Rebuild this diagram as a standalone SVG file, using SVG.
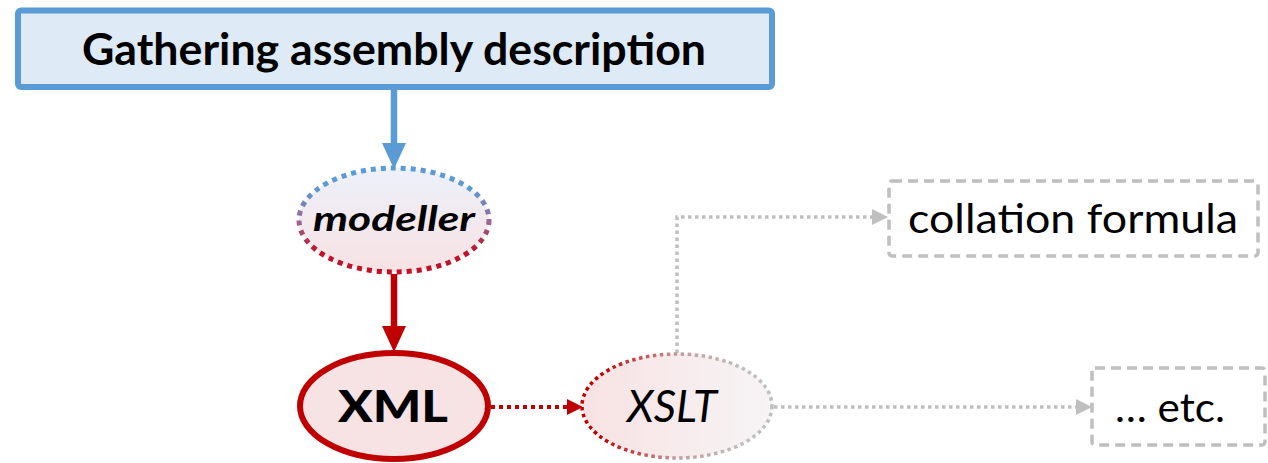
<svg xmlns="http://www.w3.org/2000/svg" width="1268" height="463" viewBox="0 0 1268 463">
<style>
.txt{font-family:Lato,"Open Sans","Liberation Sans",sans-serif;fill:#000}
.gbox{fill:#fff;stroke:#BFBFBF;stroke-width:3.5;stroke-dasharray:10 6}
.gconn{fill:none;stroke:#BFBFBF;stroke-width:3.5;stroke-dasharray:3.5 3.5}
</style>
<defs>
<linearGradient id="modFill" x1="0" y1="0" x2="0" y2="1">
<stop offset="0" stop-color="#ECF1FA"/><stop offset="1" stop-color="#F8E2E3"/>
</linearGradient>
<linearGradient id="modStroke" x1="0" y1="0" x2="0" y2="1">
<stop offset="0.2" stop-color="#5B9BD5"/><stop offset="0.5" stop-color="#9A6A9A"/><stop offset="0.8" stop-color="#C0102A"/>
</linearGradient>
<linearGradient id="xsltFill" x1="0" y1="0" x2="1" y2="0">
<stop offset="0" stop-color="#F8E2E3"/><stop offset="1" stop-color="#F6F4F5"/>
</linearGradient>
<linearGradient id="xsltStroke" x1="0" y1="0" x2="1" y2="0">
<stop offset="0.1" stop-color="#C00000"/><stop offset="0.5" stop-color="#C49A9C"/><stop offset="0.85" stop-color="#BFBFBF"/>
</linearGradient>
<marker id="arBlue" markerUnits="userSpaceOnUse" markerWidth="26" markerHeight="24" refX="0" refY="12" orient="auto">
<path d="M0,0 L26,12 L0,24 Z" fill="#5B9BD5"/>
</marker>
<marker id="arRed" markerUnits="userSpaceOnUse" markerWidth="26" markerHeight="24" refX="0" refY="12" orient="auto">
<path d="M0,0 L26,12 L0,24 Z" fill="#C00000"/>
</marker>
<marker id="arRedS" markerUnits="userSpaceOnUse" markerWidth="16" markerHeight="16" refX="0" refY="8" orient="auto">
<path d="M0,0 L16,8 L0,16 Z" fill="#C00000"/>
</marker>
<marker id="arGrey" markerUnits="userSpaceOnUse" markerWidth="16" markerHeight="16" refX="0" refY="8" orient="auto">
<path d="M0,0 L16,8 L0,16 Z" fill="#BFBFBF"/>
</marker>
</defs>

<g id="connectors">
<line x1="394" y1="89" x2="394" y2="143" stroke="#5B9BD5" stroke-width="6.5" marker-end="url(#arBlue)"/>
<line x1="394" y1="274" x2="394" y2="326" stroke="#C00000" stroke-width="6.5" marker-end="url(#arRed)"/>
<line x1="491" y1="407" x2="567" y2="407" stroke="#C00000" stroke-width="4" stroke-dasharray="4 4" marker-end="url(#arRedS)"/>
<polyline class="gconn" points="677,353 677,217 872,217" marker-end="url(#arGrey)"/>
<line class="gconn" x1="774" y1="407" x2="1076" y2="407" marker-end="url(#arGrey)"/>
</g>

<g id="node-gathering">
<rect x="18" y="10.5" width="754" height="76.5" rx="3" fill="#DEEAF6" stroke="#5B9BD5" stroke-width="6"/>
<text class="txt" x="394" y="65" font-size="43" font-weight="bold" text-anchor="middle" textLength="624" lengthAdjust="spacingAndGlyphs">Gathering assembly description</text>
</g>

<g id="node-modeller">
<ellipse cx="394" cy="220" rx="95" ry="52" fill="url(#modFill)" stroke="url(#modStroke)" stroke-width="5" stroke-dasharray="5 5"/>
<text class="txt" x="394" y="231" font-size="34" font-weight="bold" font-style="italic" text-anchor="middle" textLength="162" lengthAdjust="spacingAndGlyphs">modeller</text>
</g>

<g id="node-xml">
<ellipse cx="394" cy="406" rx="94" ry="53" fill="#F8E3E4" stroke="#C00000" stroke-width="6"/>
<text class="txt" x="393" y="422" font-size="44" font-weight="900" text-anchor="middle" textLength="110" lengthAdjust="spacingAndGlyphs">XML</text>
</g>

<g id="node-xslt">
<ellipse cx="677" cy="406" rx="95" ry="52" fill="url(#xsltFill)" stroke="url(#xsltStroke)" stroke-width="3.5" stroke-dasharray="3.5 3.5"/>
<text class="txt" x="672" y="422" font-size="44" font-weight="normal" font-style="italic" text-anchor="middle" textLength="90" lengthAdjust="spacingAndGlyphs">XSLT</text>
</g>

<g id="node-collation">
<rect class="gbox" x="889" y="181" width="369" height="75" rx="3"/>
<text class="txt" x="1073" y="233" font-size="41" text-anchor="middle" textLength="330" lengthAdjust="spacingAndGlyphs">collation formula</text>
</g>

<g id="node-etc">
<rect class="gbox" x="1092" y="368" width="173" height="77" rx="3"/>
<text class="txt" x="1170" y="422" font-size="41" text-anchor="middle" textLength="110" lengthAdjust="spacingAndGlyphs">… etc.</text>
</g>
</svg>
